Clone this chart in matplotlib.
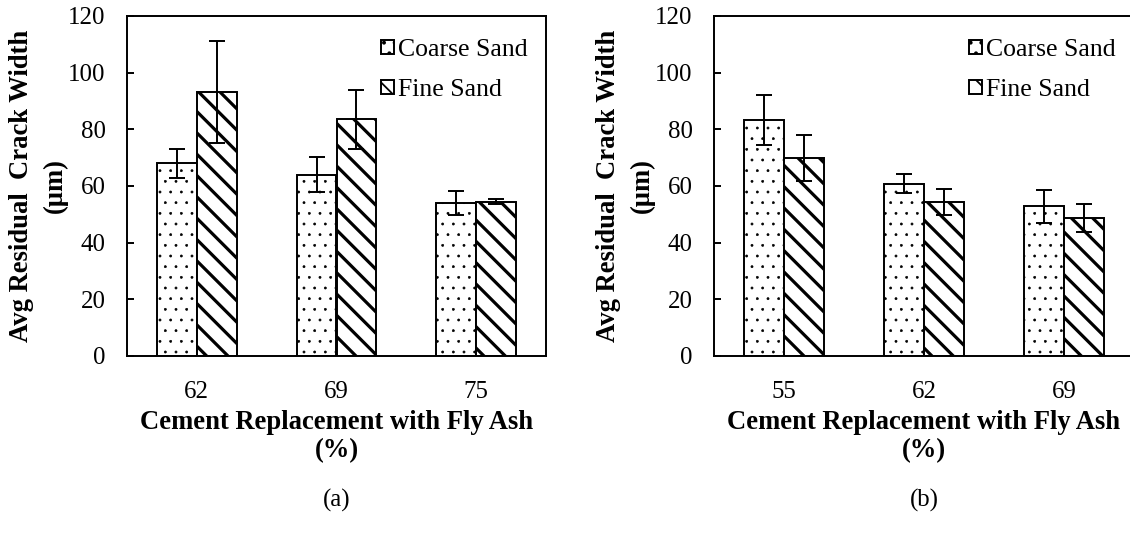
import numpy as np
import matplotlib
matplotlib.use("Agg")
import matplotlib.pyplot as plt

# crack width data (um), two mix series per panel
cats_a = ["62", "69", "75"]
coarse_a = [68.0, 64.0, 54.0]
coarse_a_err = [5.0, 6.2, 4.4]
fine_a = [93.3, 83.5, 54.5]
fine_a_err = [18.0, 10.4, 0.8]

cats_b = ["55", "62", "69"]
coarse_b = [83.2, 60.8, 52.8]
coarse_b_err = [8.9, 3.3, 5.8]
fine_b = [69.8, 54.3, 48.7]
fine_b_err = [8.2, 4.6, 4.9]

DPI = 128
plt.rcParams['font.family'] = ['Liberation Serif', 'DejaVu Serif']

fig = plt.figure(figsize=(1130 / DPI, 533 / DPI), dpi=DPI)
ax1 = fig.add_axes([127 / 1130, 177 / 533, 419 / 1130, 340 / 533])
ax2 = fig.add_axes([714 / 1130, 177 / 533, 420 / 1130, 340 / 533])

w = 0.2857


def draw_panel(ax, cats, coarse, coarse_err, fine, fine_err, tag):
    x = np.arange(len(cats))
    ekw = dict(ecolor='black', elinewidth=1.1, capsize=4.5, capthick=1.1)
    with plt.rc_context({'hatch.linewidth': 0.35, 'hatch.color': 'black'}):
        b1 = ax.bar(x - w / 2, coarse, w, yerr=coarse_err, color='white',
                    edgecolor='black', linewidth=1.1, hatch='..',
                    label='Coarse Sand', error_kw=ekw)
    with plt.rc_context({'hatch.linewidth': 1.8, 'hatch.color': 'black'}):
        b2 = ax.bar(x + w / 2, fine, w, yerr=fine_err, color='white',
                    edgecolor='black', linewidth=1.1, hatch='\\\\',
                    label='Fine Sand', error_kw=ekw)
    for p in b1.patches:
        if hasattr(p, 'set_hatch_linewidth'):
            p.set_hatch_linewidth(0.35)
    for p in b2.patches:
        if hasattr(p, 'set_hatch_linewidth'):
            p.set_hatch_linewidth(1.8)

    ax.set_xlim(-0.5, len(cats) - 0.5)
    ax.set_ylim(0, 120)
    ax.set_yticks(range(0, 121, 20))
    ax.set_xticks(x)
    ax.set_xticklabels(cats)
    ax.tick_params(axis='y', direction='in', length=4, width=1.1,
                   labelsize=14, pad=12)
    ax.tick_params(axis='x', length=0, labelsize=14, pad=14)
    for s in ax.spines.values():
        s.set_linewidth(1.1)

    ax.set_xlabel('Cement Replacement with Fly Ash\n(%)', fontsize=15,
                  fontweight='bold', labelpad=4, linespacing=1.17)
    ax.set_ylabel('Avg Residual  Crack Width\n(µm)', fontsize=15,
                  fontweight='bold', labelpad=0, linespacing=1.45)

    leg = ax.legend(loc='upper right', frameon=False, fontsize=14.5,
                    handlelength=0.5, handleheight=0.5, handletextpad=0.15,
                    labelspacing=0.7, borderaxespad=0.0, borderpad=0.9,
                    bbox_to_anchor=(1.012, 1.0))
    for h in leg.legend_handles:
        h.set_linewidth(1.1)

    ax.text(0.5, -0.424, tag, transform=ax.transAxes, ha='center',
            va='center', fontsize=14)


draw_panel(ax1, cats_a, coarse_a, coarse_a_err, fine_a, fine_a_err, '(a)')
draw_panel(ax2, cats_b, coarse_b, coarse_b_err, fine_b, fine_b_err, '(b)')

fig.savefig('out.png', dpi=DPI)
